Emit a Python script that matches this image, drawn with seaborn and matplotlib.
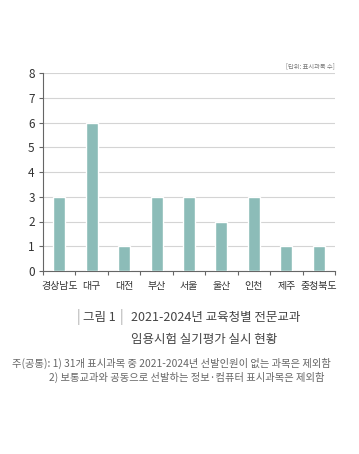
import matplotlib
matplotlib.use("Agg")
import matplotlib.pyplot as plt
import seaborn as sns
import pandas as pd
import numpy as np

regions = ["경상남도", "대구", "대전", "부산", "서울", "울산", "인천", "제주", "충청북도"]
counts = [3, 6, 1, 3, 3, 2, 3, 1, 1]
yticks = [0, 1, 2, 3, 4, 5, 6, 7, 8]

sns.set_theme(style="white")
plt.rcParams['font.family'] = ['Noto Sans CJK KR', 'DejaVu Sans']

df = pd.DataFrame({"region": regions, "count": counts})

W, H = 359, 454
fig = plt.figure(figsize=(W / 100, H / 100), dpi=100)
ax = fig.add_axes([43 / W, 1 - 271 / H, (335 - 43) / W, (271 - 73) / H])

sns.barplot(data=df, x="region", y="count", color="#8cbcb8", width=0.37,
            saturation=1, ax=ax, zorder=3)

ax.set_ylim(0, 8)
ax.set_xlim(-0.5, len(regions) - 0.5)
ax.set_yticks(yticks)
ax.set_yticklabels([str(t) for t in yticks], fontsize=8.5, color="#333333")
ax.set_xticks(range(len(regions)))
ax.set_xticklabels(regions, fontsize=7.2, color="#333333")
ax.tick_params(axis="x", length=0, pad=7)
ax.tick_params(axis="y", length=3, width=0.8, color="#666666", pad=3, left=True)
ax.set_xticks(np.arange(-0.5, len(regions), 1.0), minor=True)
ax.tick_params(axis="x", which="minor", length=3, width=0.8, color="#666666", bottom=True)
ax.set_xlabel("")
ax.set_ylabel("")

ax.yaxis.grid(True, color="#d4d4d4", linewidth=0.8, zorder=0)
ax.set_axisbelow(True)
for s in ["top", "right"]:
    ax.spines[s].set_visible(False)
for s in ["left", "bottom"]:
    ax.spines[s].set_color("#666666")
    ax.spines[s].set_linewidth(0.8)

fig.text(335 / W, 1 - 66 / H, "[단위: 표시과목 수]", fontsize=4.5, color="#777777",
         ha="right", va="center")

fig.text(77 / W, 1 - 317 / H, "|", fontsize=10, color="#aaaaaa", ha="left", va="center")
fig.text(83 / W, 1 - 317 / H, "그림 1", fontsize=9, color="#444444", ha="left", va="center")
fig.text(120 / W, 1 - 317 / H, "|", fontsize=10, color="#aaaaaa", ha="left", va="center")
fig.text(131 / W, 1 - 317 / H, "2021-2024년 교육청별 전문교과", fontsize=9, color="#444444",
         ha="left", va="center")
fig.text(131 / W, 1 - 339 / H, "임용시험 실기평가 실시 현황", fontsize=9, color="#444444",
         ha="left", va="center")

fig.text(12 / W, 1 - 363 / H, "주(공통): 1) 31개 표시과목 중 2021-2024년 선발인원이 없는 과목은 제외함",
         fontsize=7.4, color="#666666", ha="left", va="center")
fig.text(49 / W, 1 - 377 / H, "2) 보통교과와 공동으로 선발하는 정보·컴퓨터 표시과목은 제외함",
         fontsize=7.4, color="#666666", ha="left", va="center")

fig.savefig("out.png", dpi=100)
